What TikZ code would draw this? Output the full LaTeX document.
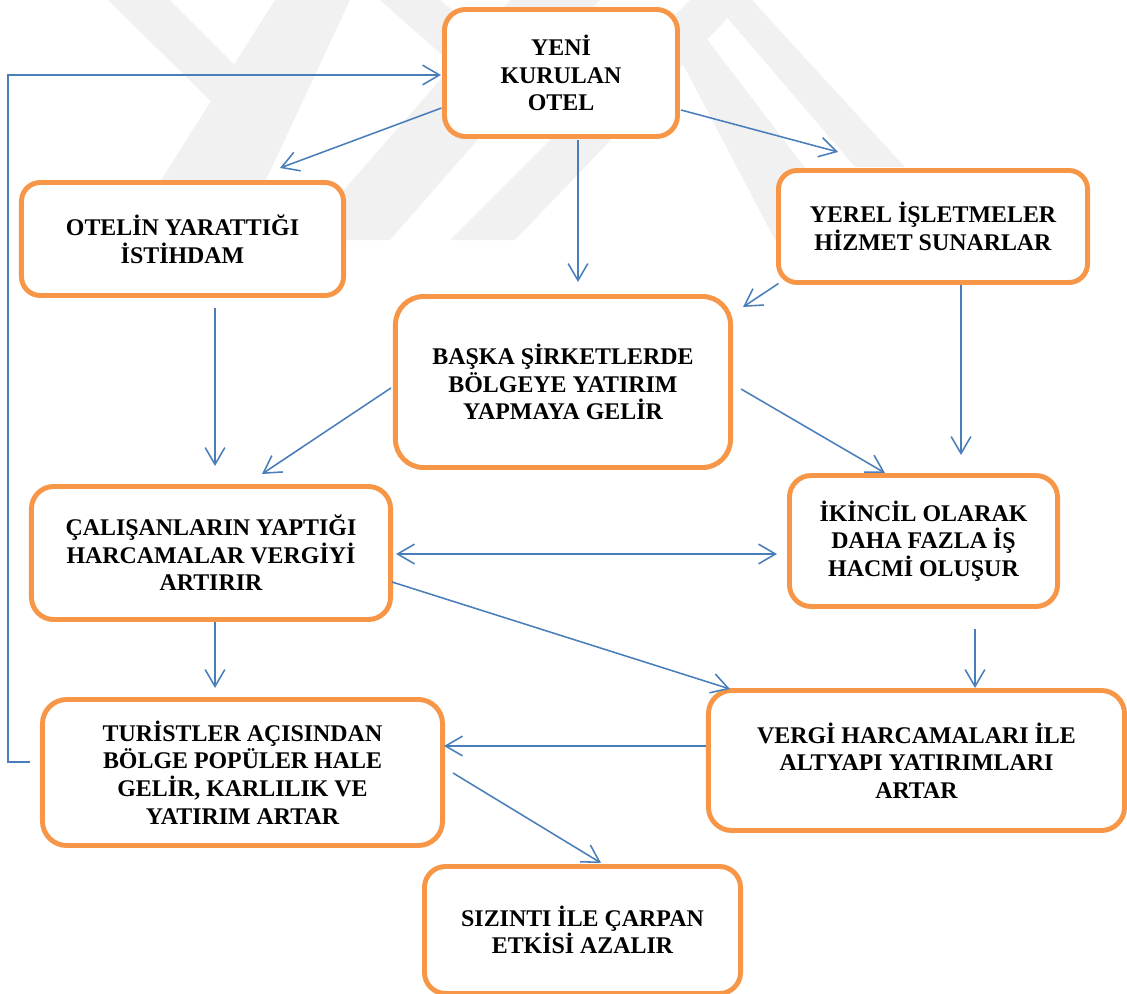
\documentclass[tikz,border=0pt]{standalone}
\usepackage{fontspec}
\setmainfont{Liberation Serif}
\usetikzlibrary{arrows.meta,calc}
\definecolor{boxorange}{HTML}{F79646}
\definecolor{arrblue}{HTML}{4A7EBB}
\definecolor{wmgray}{HTML}{F1F1F1}
\tikzset{
  box/.style={draw=boxorange, line width=3.5pt, fill=white, align=center,
    font=\fontsize{17}{19.6}\selectfont\bfseries, inner sep=0pt, outer sep=0pt},
  arr/.style={draw=arrblue, line width=1.1pt, -{Straight Barb[length=12pt,width=14pt]}},
  darr/.style={draw=arrblue, line width=1.1pt, {Straight Barb[length=12pt,width=14pt]}-{Straight Barb[length=12pt,width=14pt]}},
  wm/.style={fill=wmgray, draw=none}
}
\begin{document}
\begin{tikzpicture}[x=0.025cm, y=-0.025cm]
\useasboundingbox (0,0) rectangle (1127,994);
% watermark
\begin{scope}
\clip (0,0) rectangle (1127,994);
\fill[wm] (275,0) -- (350,0) -- (238,240) -- (123,240) -- cycle;
\fill[wm] (108,0) -- (170,0) -- (262,92) -- (238,128) -- cycle;
\fill[wm] (510,0) -- (600,0) -- (390,240) -- (300,240) -- cycle;
\fill[wm] (380,0) -- (440,0) -- (490,40) -- (470,80) -- cycle;
\fill[wm] (690,0) -- (745,0) -- (515,240) -- (450,240) -- cycle;
\fill[wm] (712,0) -- (752,0) -- (905,167) -- (855,167) -- cycle;
\fill[wm] (665,30) -- (700,30) -- (860,240) -- (775,240) -- cycle;
\end{scope}

% boxes
\node[box, minimum width=5.825cm, minimum height=3.175cm, rounded corners=15pt] (yeni) at (561,73) {YENİ\\KURULAN\\OTEL};
\node[box, minimum width=8.05cm, minimum height=2.825cm, rounded corners=13.4pt] (otelin) at (182.5,239) {OTELİN YARATTIĞI\\İSTİHDAM};
\node[box, minimum width=7.725cm, minimum height=2.8cm, rounded corners=13.3pt] (yerel) at (933,226.5) {YEREL İŞLETMELER\\HİZMET SUNARLAR};
\node[box, minimum width=8.375cm, minimum height=4.275cm, rounded corners=20pt] (baska) at (563,382) {BAŞKA ŞİRKETLERDE\\BÖLGEYE YATIRIM\\YAPMAYA GELİR};
\node[box, minimum width=8.975cm, minimum height=3.325cm, rounded corners=15.8pt] (calisan) at (211,553) {ÇALIŞANLARIN YAPTIĞI\\HARCAMALAR VERGİYİ\\ARTIRIR};
\node[box, minimum width=6.7cm, minimum height=3.275cm, rounded corners=15.5pt] (ikincil) at (923.5,541) {İKİNCİL OLARAK\\DAHA FAZLA İŞ\\HACMİ OLUŞUR};
\node[box, minimum width=10cm, minimum height=3.65cm, rounded corners=17.3pt] (turist) at (242.5,772.5) {TURİSTLER AÇISINDAN\\BÖLGE POPÜLER HALE\\GELİR, KARLILIK VE\\YATIRIM ARTAR};
\node[box, minimum width=10.4cm, minimum height=3.5cm, rounded corners=16.6pt] (vergi) at (916.5,760.5) {VERGİ HARCAMALARI İLE\\ALTYAPI YATIRIMLARI\\ARTAR};
\node[box, minimum width=7.9cm, minimum height=3.175cm, rounded corners=15pt] (sizinti) at (582.5,930) {SIZINTI İLE ÇARPAN\\ETKİSİ AZALIR};

% feedback loop
\coordinate (loopx) at (8,0);
\coordinate (tstart) at ($(turist.west)+(-12.5,-10.5)$);
\coordinate (yend) at ($(yeni.west)+(-3.5,2)$);
\draw[arr] (tstart) -- (tstart -| loopx) -- (loopx |- yend) -- (yend);

% connectors
\draw[arr] ($(yeni.west)+(-3,35)$) -- ($(otelin.north)+(97.5,-14.5)$);
\draw[arr] ($(yeni.east)+(3.5,37)$) -- ($(yerel.north)+(-95,-18.5)$);
\draw[arr] ($(yeni.south)+(17,3.5)$) -- ($(baska.north)+(15,-14.5)$);
\draw[arr] ($(yerel.south west)+(0,1)$) -- ($(baska.north east)+(12.5,10.5)$);
\draw[arr] ($(yerel.south)+(28,2.5)$) -- ($(ikincil.north)+(37.5,-20.5)$);
\draw[arr] ($(otelin.south)+(32.5,12.5)$) -- ($(calisan.north)+(4,-20.5)$);
\draw[arr] ($(baska.west)+(-4.5,6)$) -- ($(calisan.north)+(51,-12.5)$);
\draw[arr] ($(baska.east)+(10.5,7)$) -- ($(ikincil.north)+(-38.5,-2.5)$);
\draw[darr] ($(calisan.east)+(5.5,1)$) -- ($(ikincil.west)+(-12.5,13)$);
\draw[arr] ($(calisan.east)+(1.5,29)$) -- ($(vergi.north west)+(21.5,-1.5)$);
\draw[arr] ($(ikincil.south)+(51.5,22.5)$) -- ($(vergi.north)+(58.5,-2.5)$);
\draw[arr] ($(calisan.south)+(4,2.5)$) -- ($(turist.north)+(-27.5,-11.5)$);
\draw[arr] ($(vergi.west)+(-2.5,-14.5)$) -- ($(turist.east)+(1.5,-26.5)$);
\draw[arr] ($(turist.east)+(10.5,0.5)$) -- ($(sizinti.north)+(18.5,-3.5)$);
\end{tikzpicture}
\end{document}
